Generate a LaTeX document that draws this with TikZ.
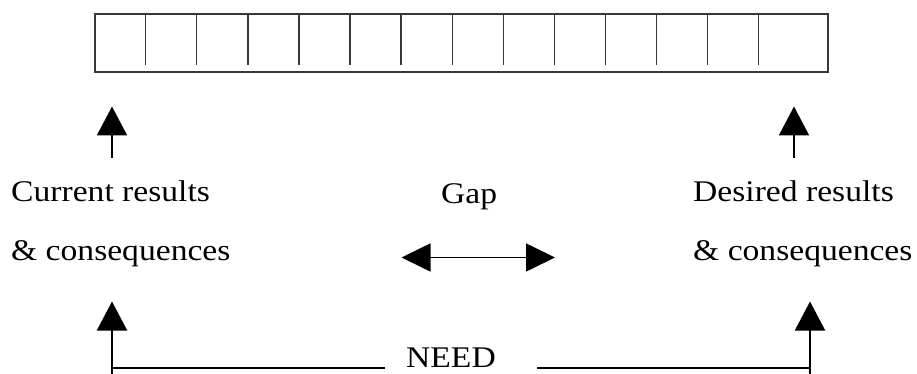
\documentclass[tikz,border=0pt]{standalone}
\usepackage{fontspec}
\setmainfont[FakeStretch=1.12]{Liberation Serif}
\usetikzlibrary{arrows.meta}
\begin{document}
\begin{tikzpicture}[x=1pt,y=-1pt,
  cellline/.style={line width=1.3pt,draw=black!78},
  uparrow/.style={line width=2pt,-{Triangle[length=29pt,width=30pt]}},
  gaparrow/.style={line width=1.6pt,{Triangle[length=29pt,width=28pt]}-{Triangle[length=29pt,width=28pt]}},
  needline/.style={line width=1.6pt},
  lbl/.style={inner sep=0pt,anchor=base west,font=\fontsize{30}{32}\selectfont}]
\useasboundingbox (0,0) rectangle (917,374);
% strip of cells
\draw[cellline] (95,14) rectangle (828,72);
\foreach \k in {0,...,12}{
  \draw[cellline] ({145.7+51.08*\k},14) -- ({145.7+51.08*\k},65);
}
% labels
\node[lbl] (cur1) at (11,201) {Current results};
\node[lbl] (cur2) at (11,260) {\& consequences};
\node[lbl] (gap) at (441,203) {Gap};
\node[lbl] (des1) at (693,201) {Desired results};
\node[lbl] (des2) at (693,260) {\& consequences};
\node[lbl] (need) at (406,367) {NEED};
% top arrows
\coordinate (ctail) at (112,158);
\coordinate (ctip) at (112,106.5);
\coordinate (dtail) at (794,158);
\coordinate (dtip) at (794,106.5);
\draw[uparrow] (ctail) -- (ctip);
\draw[uparrow] (dtail) -- (dtip);
% gap arrow
\coordinate (gl) at (401.5,257.5);
\coordinate (gr) at (555,257.5);
\draw[gaparrow] (gl) -- (gr);
% bottom arrows and need line
\coordinate (cbot) at (112,374);
\coordinate (cbtip) at (112,301.5);
\coordinate (dbot) at (810,374);
\coordinate (dbtip) at (810,301.5);
\coordinate (ncl) at (112,368);
\coordinate (nl) at (385,368);
\coordinate (nr) at (537,368);
\coordinate (ncr) at (810,368);
\draw[uparrow] (cbot) -- (cbtip);
\draw[uparrow] (dbot) -- (dbtip);
\draw[needline] (ncl) -- (nl);
\draw[needline] (nr) -- (ncr);
\end{tikzpicture}
\end{document}
